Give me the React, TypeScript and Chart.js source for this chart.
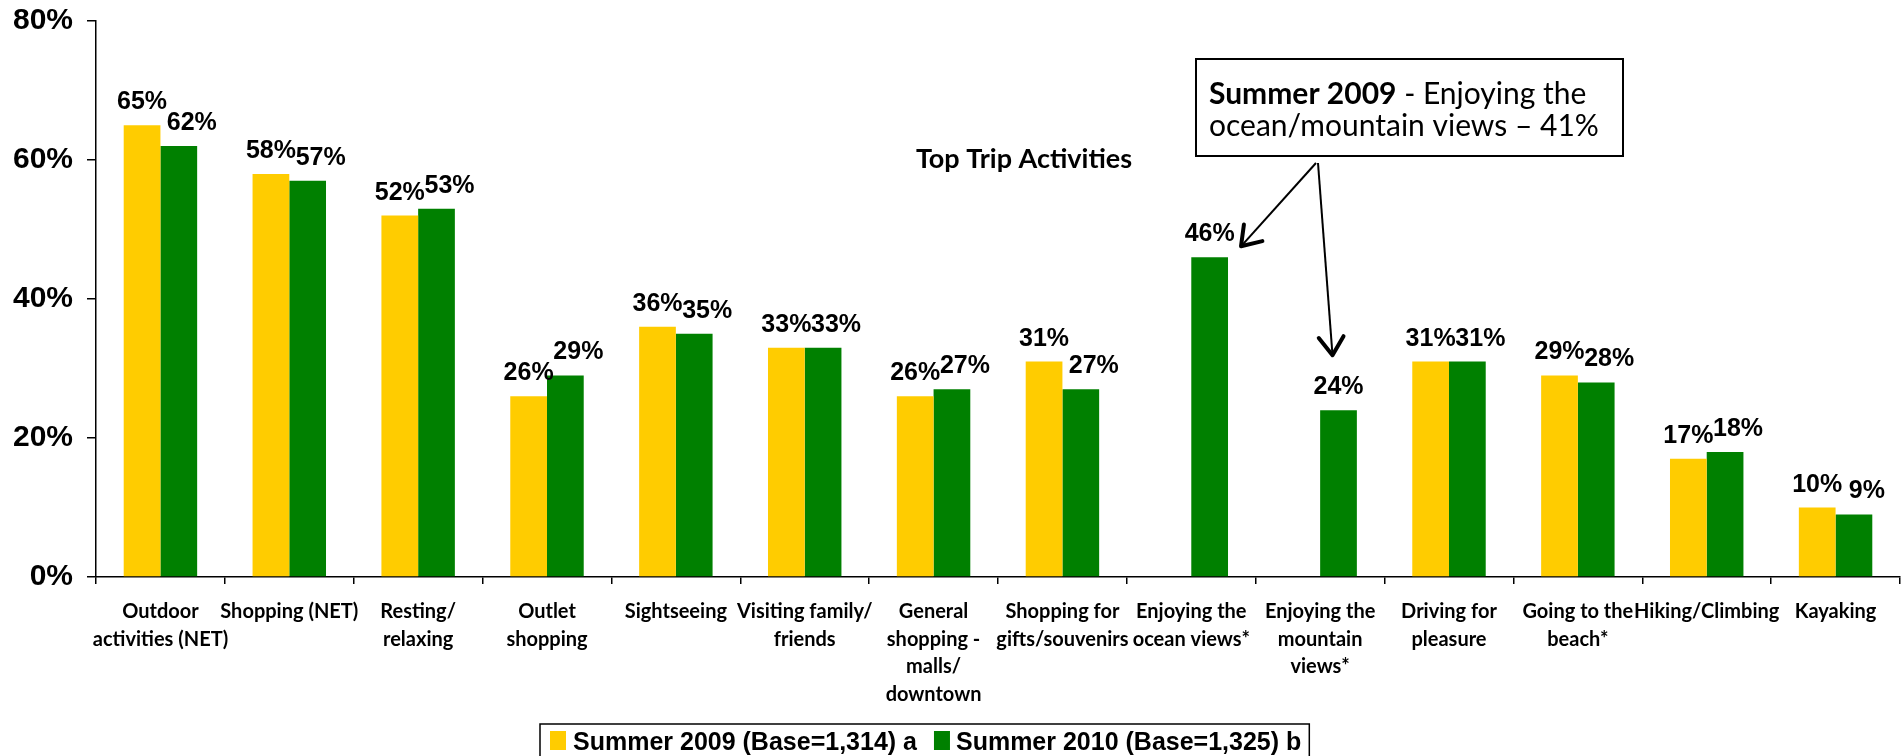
import { useEffect, useRef } from "react";
import { Chart, registerables } from "chart.js";

Chart.register(...registerables);

const categories: string[][] = [
  ["Outdoor", "activities (NET)"],
  ["Shopping (NET)"],
  ["Resting/", "relaxing"],
  ["Outlet", "shopping"],
  ["Sightseeing"],
  ["Visiting family/", "friends"],
  ["General", "shopping -", "malls/", "downtown"],
  ["Shopping for", "gifts/souvenirs"],
  ["Enjoying the", "ocean views*"],
  ["Enjoying the", "mountain", "views*"],
  ["Driving for", "pleasure"],
  ["Going to the", "beach*"],
  ["Hiking/Climbing"],
  ["Kayaking"],
];

const series2009Label = "Summer 2009 (Base=1,314) a";
const series2010Label = "Summer 2010 (Base=1,325) b";

const summer2009: (number | null)[] = [65, 58, 52, 26, 36, 33, 26, 31, null, null, 31, 29, 17, 10];
const summer2010: (number | null)[] = [62, 57, 53, 29, 35, 33, 27, 27, 46, 24, 31, 28, 18, 9];

const yTickValues = [0, 20, 40, 60, 80];

const chartTitle = "Top Trip Activities";
const calloutBold = "Summer 2009";
const calloutRest = " - Enjoying the";
const calloutLine2 = "ocean/mountain views \u2013 41%";
const calloutTargets = [8, 9];

const YELLOW = "#FFCC00";
const GREEN = "#008000";
const ARIAL = '"Liberation Sans", Arial, sans-serif';
const CALIBRI = 'Lato, "Open Sans", sans-serif';

function drawArrow(ctx: CanvasRenderingContext2D, x1: number, y1: number, x2: number, y2: number) {
  ctx.save();
  ctx.strokeStyle = "#000";
  ctx.lineWidth = 2;
  ctx.beginPath();
  ctx.moveTo(x1, y1);
  ctx.lineTo(x2, y2);
  ctx.stroke();
  const ang = Math.atan2(y2 - y1, x2 - x1);
  const len = 22;
  const spread = 0.6;
  ctx.lineWidth = 4;
  ctx.lineCap = "round";
  ctx.lineJoin = "round";
  ctx.beginPath();
  ctx.moveTo(x2 - len * Math.cos(ang - spread), y2 - len * Math.sin(ang - spread));
  ctx.lineTo(x2, y2);
  ctx.lineTo(x2 - len * Math.cos(ang + spread), y2 - len * Math.sin(ang + spread));
  ctx.stroke();
  ctx.restore();
}

const overlayPlugin = {
  id: "overlay",
  afterDraw(chart: any) {
    const ctx: CanvasRenderingContext2D = chart.ctx;
    ctx.save();
    // data labels
    ctx.fillStyle = "#000";
    ctx.font = `bold 25px ${ARIAL}`;
    ctx.textAlign = "center";
    ctx.textBaseline = "alphabetic";
    chart.data.datasets.forEach((ds: any, di: number) => {
      const meta = chart.getDatasetMeta(di);
      meta.data.forEach((el: any, i: number) => {
        const v = ds.data[i];
        if (v == null) return;
        const hasPair = chart.data.datasets[0].data[i] != null;
        const dx = di === 1 && hasPair ? 13 : 0;
        ctx.fillText(`${v}%`, el.x + dx, el.y - 16);
      });
    });

    // title
    ctx.font = `bold 27px ${CALIBRI}`;
    ctx.fillText(chartTitle, 1024, 168);

    // callout box
    const bx = 1196, by = 59, bw = 427, bh = 97;
    ctx.fillStyle = "#fff";
    ctx.fillRect(bx, by, bw, bh);
    ctx.strokeStyle = "#000";
    ctx.lineWidth = 2;
    ctx.strokeRect(bx, by, bw, bh);
    ctx.fillStyle = "#000";
    ctx.textAlign = "left";
    ctx.font = `bold 30px ${CALIBRI}`;
    ctx.fillText(calloutBold, 1209, 104);
    const w1 = ctx.measureText(calloutBold).width;
    ctx.font = `30px ${CALIBRI}`;
    ctx.fillText(calloutRest, 1209 + w1, 104);
    ctx.fillText(calloutLine2, 1209, 136);

    // arrows
    const meta2010 = chart.getDatasetMeta(1);
    const e1 = meta2010.data[calloutTargets[0]];
    const e2 = meta2010.data[calloutTargets[1]];
    drawArrow(ctx, 1316, 163, e1.x + e1.width / 2 + 13, e1.y - 11);
    drawArrow(ctx, 1318, 163, e2.x - 6, e2.y - 55);

    // legend
    ctx.font = `bold 25px ${ARIAL}`;
    const lx = 540, ly = 724;
    const t1 = ctx.measureText(series2009Label).width;
    const t2 = ctx.measureText(series2010Label).width;
    const totalW = 10 + 16 + 7 + t1 + 17 + 16 + 6 + t2 + 8;
    ctx.fillStyle = "#fff";
    ctx.fillRect(lx, ly, totalW, 50);
    ctx.strokeStyle = "#000";
    ctx.lineWidth = 1.5;
    ctx.strokeRect(lx, ly, totalW, 50);
    let cx = lx + 10;
    ctx.fillStyle = YELLOW;
    ctx.fillRect(cx, 731, 16, 19);
    cx += 16 + 7;
    ctx.fillStyle = "#000";
    ctx.fillText(series2009Label, cx, 750);
    cx += t1 + 17;
    ctx.fillStyle = GREEN;
    ctx.fillRect(cx, 731, 16, 19);
    cx += 16 + 6;
    ctx.fillStyle = "#000";
    ctx.fillText(series2010Label, cx, 750);
    ctx.restore();
  },
};

export default function App() {
  const ref = useRef<HTMLCanvasElement | null>(null);
  useEffect(() => {
    if (!ref.current) return;
    const chart = new Chart(ref.current, {
      type: "bar",
      data: {
        labels: categories,
        datasets: [
          {
            label: series2009Label,
            data: summer2009,
            backgroundColor: YELLOW,
            borderWidth: 0,
            categoryPercentage: 0.57,
            barPercentage: 1,
          },
          {
            label: series2010Label,
            data: summer2010,
            backgroundColor: GREEN,
            borderWidth: 0,
            categoryPercentage: 0.57,
            barPercentage: 1,
          },
        ],
      },
      options: {
        animation: false,
        responsive: true,
        maintainAspectRatio: false,
        layout: { padding: { left: 0, right: 4, top: 21, bottom: 0 } },
        plugins: {
          legend: { display: false },
          tooltip: { enabled: false },
          title: { display: false },
        },
        scales: {
          x: {
            type: "category",
            offset: true,
            grid: {
              display: true,
              offset: true,
              drawOnChartArea: false,
              drawTicks: true,
              tickLength: 7,
              color: "#000",
              lineWidth: 1.5,
            },
            border: { display: true, color: "#000", width: 1.5 },
            ticks: {
              autoSkip: false,
              maxRotation: 0,
              minRotation: 0,
              color: "#000",
              padding: 14,
              font: { family: CALIBRI, weight: "bold", size: 20, lineHeight: 1.38 },
            },
            afterFit: (scale: any) => {
              scale.height = 179;
              scale.paddingLeft = 0;
              scale.paddingRight = 0;
            },
          },
          y: {
            min: 0,
            max: 80,
            afterBuildTicks: (scale: any) => {
              scale.ticks = yTickValues.map((v) => ({ value: v }));
            },
            grid: {
              display: true,
              drawOnChartArea: false,
              drawTicks: true,
              tickLength: 9,
              color: "#000",
              lineWidth: 1.5,
            },
            border: { display: true, color: "#000", width: 1.5 },
            ticks: {
              color: "#000",
              padding: 14,
              font: { family: ARIAL, weight: "bold", size: 30 },
              callback: (v: any) => `${v}%`,
            },
            afterFit: (scale: any) => {
              scale.width = 96;
              scale.paddingTop = 0;
              scale.paddingBottom = 0;
            },
          },
        },
      },
      plugins: [overlayPlugin],
    });
    return () => chart.destroy();
  }, []);
  return (
    <div style={{ position: "absolute", left: 0, top: 0, width: 1904, height: 756 }}>
      <canvas ref={ref} />
    </div>
  );
}
